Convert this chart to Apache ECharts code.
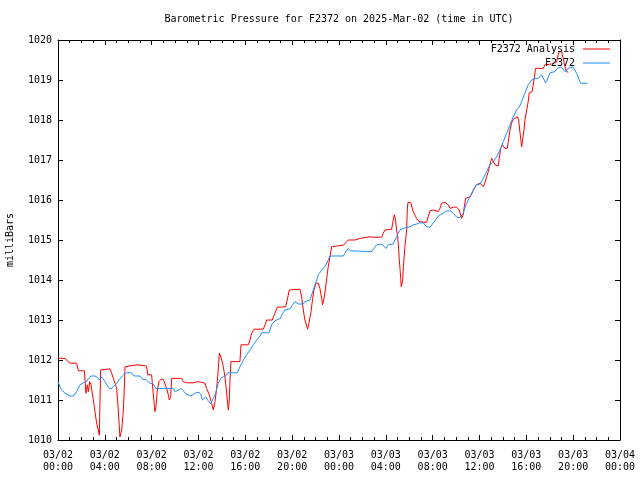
<!DOCTYPE html>
<html>
<head>
<meta charset="utf-8">
<script src="https://cdn.jsdelivr.net/npm/echarts@6/dist/echarts.min.js"></script>
<style>html,body{margin:0;padding:0;background:#fff}#c{width:640px;height:480px}</style>
</head>
<body>
<div id="c"></div>
<script>
// Hours since 2025-03-02 00:00 UTC
const xTickHours = [0,4,8,12,16,20,24,28,32,36,40,44,48];
const yTicks = [1010,1011,1012,1013,1014,1015,1016,1017,1018,1019,1020];

const analysisHours = [0.0,0.60,1.02,1.59,1.74,2.25,2.39,2.50,2.59,2.70,2.82,3.02,3.16,3.30,3.44,3.53,3.64,3.79,4.44,4.58,4.73,4.87,5.01,5.15,5.29,5.44,5.58,5.66,5.72,5.81,6.72,6.86,7.57,7.66,8.00,8.08,8.28,8.37,8.48,8.63,8.80,8.99,9.14,9.28,9.42,9.51,9.62,9.71,10.56,10.70,10.99,11.56,11.98,12.27,12.55,12.70,12.92,13.12,13.27,13.41,13.55,13.64,13.72,13.78,13.89,13.98,14.12,14.26,14.35,14.46,14.55,14.63,14.69,14.77,15.54,15.63,16.25,16.40,16.54,16.74,17.53,17.68,17.82,18.30,18.53,18.73,19.44,19.58,19.75,19.87,20.67,20.81,20.95,21.09,21.32,21.46,21.61,21.75,21.86,22.03,22.23,22.37,22.52,22.60,22.72,22.83,22.95,23.08,23.23,23.37,23.80,24.08,24.23,24.37,24.51,24.79,25.36,25.51,25.79,25.94,26.64,26.93,27.64,27.78,27.93,28.50,28.58,28.72,28.81,28.92,29.01,29.06,29.15,29.21,29.27,29.32,29.44,29.50,29.63,29.78,29.83,29.89,30.12,30.34,30.63,30.83,31.48,31.62,31.77,32.05,32.48,32.62,32.77,32.91,33.05,33.33,33.48,33.62,33.76,34.05,34.27,34.39,34.47,34.61,34.70,34.82,34.90,35.18,35.33,35.47,35.61,35.75,36.04,36.18,36.32,36.46,36.61,36.75,36.95,37.04,37.18,37.32,37.60,37.69,37.81,37.95,38.17,38.37,38.46,38.60,38.74,38.89,39.23,39.34,39.45,39.60,39.68,39.80,39.88,40.03,40.16,40.25,40.50,40.65,40.79,41.44,41.59,41.73,42.16,42.30,42.59,42.72,42.81,43.01,43.15,43.30,43.44,43.58];
const analysisValues = [1012.04,1012.04,1011.92,1011.92,1011.73,1011.73,1011.17,1011.38,1011.21,1011.46,1011.38,1011.00,1010.71,1010.42,1010.25,1010.12,1011.75,1011.78,1011.78,1011.67,1011.54,1011.42,1011.29,1010.75,1010.08,1010.25,1010.75,1011.25,1011.83,1011.88,1011.88,1011.85,1011.85,1011.63,1011.63,1011.33,1010.71,1010.83,1011.25,1011.46,1011.52,1011.52,1011.48,1011.29,1011.13,1011.00,1011.08,1011.54,1011.54,1011.46,1011.43,1011.43,1011.46,1011.44,1011.42,1011.29,1011.13,1010.92,1010.75,1010.96,1011.29,1011.58,1011.92,1012.17,1012.10,1012.00,1011.83,1011.58,1011.33,1011.00,1010.75,1011.00,1011.50,1011.96,1011.96,1012.38,1012.38,1012.50,1012.67,1012.77,1012.77,1012.88,1013.00,1013.00,1013.17,1013.32,1013.33,1013.50,1013.75,1013.77,1013.77,1013.58,1013.25,1013.00,1012.77,1012.96,1013.21,1013.54,1013.75,1013.92,1013.92,1013.79,1013.54,1013.38,1013.54,1013.75,1014.04,1014.33,1014.58,1014.83,1014.85,1014.86,1014.85,1014.87,1014.92,1015.00,1015.00,1015.02,1015.04,1015.08,1015.08,1015.07,1015.07,1015.17,1015.25,1015.27,1015.42,1015.63,1015.54,1015.25,1015.08,1014.92,1014.50,1014.29,1014.04,1013.83,1014.00,1014.33,1014.83,1015.25,1015.75,1015.94,1015.94,1015.71,1015.54,1015.46,1015.44,1015.58,1015.73,1015.75,1015.71,1015.79,1015.92,1015.96,1015.94,1015.88,1015.79,1015.77,1015.82,1015.82,1015.75,1015.63,1015.54,1015.63,1015.83,1016.04,1016.08,1016.08,1016.15,1016.25,1016.32,1016.38,1016.42,1016.38,1016.33,1016.43,1016.58,1016.71,1016.96,1017.04,1017.00,1016.88,1016.85,1017.04,1017.29,1017.38,1017.29,1017.29,1017.46,1017.75,1017.92,1018.02,1018.08,1018.00,1017.71,1017.33,1017.50,1017.75,1018.00,1018.25,1018.46,1018.68,1018.71,1019.00,1019.29,1019.29,1019.38,1019.42,1019.40,1019.43,1019.46,1019.63,1019.71,1019.71,1019.54,1019.33,1019.21,1019.19];

const stationHours = [0.0,0.17,0.31,0.60,1.02,1.31,1.59,1.88,2.16,2.45,2.59,2.82,3.16,3.36,3.53,3.73,4.01,4.24,4.38,4.58,4.81,5.01,5.29,5.58,5.78,6.29,6.49,7.00,7.20,7.57,7.86,8.14,8.34,9.85,9.99,10.28,10.50,10.70,10.93,11.07,11.36,11.56,11.84,12.07,12.21,12.33,12.47,12.61,12.78,12.90,13.04,13.18,13.35,13.49,13.69,13.89,14.12,14.32,14.49,15.30,15.54,15.83,16.11,16.40,16.68,16.97,17.25,17.40,18.02,18.25,18.53,18.81,19.02,19.10,19.38,19.53,19.81,20.04,20.24,20.38,20.52,20.95,21.09,21.52,21.67,21.80,21.95,22.09,22.23,22.52,22.80,23.08,23.23,24.37,24.51,24.79,24.94,25.08,26.79,26.93,27.22,27.64,27.78,28.01,28.21,28.35,28.63,28.78,28.92,29.06,29.21,29.49,29.72,30.06,30.34,30.63,30.91,31.20,31.48,31.77,32.19,32.48,32.91,33.19,33.48,33.76,34.05,34.19,34.33,34.61,34.90,35.18,35.47,35.75,36.04,36.32,36.61,36.89,37.18,37.46,37.75,38.03,38.32,38.60,38.89,39.17,39.45,39.60,39.88,40.16,40.45,40.74,41.02,41.31,41.44,41.64,41.79,42.01,42.16,42.44,42.64,42.78,42.93,43.15,43.30,43.44,43.58,43.72,43.95,44.15,44.35,44.49,44.64,45.22];
const stationValues = [1011.46,1011.33,1011.25,1011.17,1011.10,1011.10,1011.21,1011.38,1011.43,1011.46,1011.54,1011.60,1011.60,1011.57,1011.50,1011.58,1011.46,1011.35,1011.29,1011.29,1011.35,1011.42,1011.54,1011.62,1011.68,1011.68,1011.60,1011.60,1011.52,1011.50,1011.42,1011.40,1011.29,1011.29,1011.21,1011.25,1011.29,1011.23,1011.15,1011.10,1011.10,1011.14,1011.19,1011.19,1011.13,1011.00,1011.04,1011.08,1011.00,1010.96,1010.90,1011.00,1011.08,1011.21,1011.42,1011.54,1011.58,1011.60,1011.68,1011.68,1011.83,1012.00,1012.13,1012.25,1012.38,1012.50,1012.60,1012.68,1012.68,1012.88,1012.98,1013.02,1013.04,1013.13,1013.25,1013.28,1013.28,1013.38,1013.46,1013.50,1013.40,1013.40,1013.46,1013.50,1013.63,1013.75,1013.88,1014.00,1014.13,1014.25,1014.33,1014.50,1014.60,1014.60,1014.67,1014.79,1014.73,1014.71,1014.71,1014.75,1014.88,1014.90,1014.88,1014.79,1014.88,1014.90,1014.90,1015.00,1015.08,1015.17,1015.25,1015.29,1015.31,1015.33,1015.38,1015.40,1015.43,1015.43,1015.33,1015.32,1015.48,1015.60,1015.67,1015.73,1015.73,1015.67,1015.57,1015.54,1015.56,1015.67,1015.92,1016.08,1016.25,1016.38,1016.40,1016.54,1016.71,1016.88,1016.96,1017.08,1017.25,1017.46,1017.67,1017.88,1018.08,1018.25,1018.35,1018.46,1018.67,1018.88,1019.00,1019.04,1019.04,1019.13,1019.10,1018.93,1019.00,1019.18,1019.21,1019.21,1019.29,1019.33,1019.33,1019.27,1019.21,1019.21,1019.29,1019.33,1019.33,1019.25,1019.13,1019.02,1018.92,1018.92];

const FONT = 'DejaVu Sans Mono';
const zip = (a, b) => a.map((h, i) => [h, b[i]]);

function xLabel(v) {
  const d = 2 + Math.floor(v / 24);
  const hh = v % 24;
  return '03/0' + d + '\n' + (hh < 10 ? '0' : '') + hh + ':00';
}

const chart = echarts.init(document.getElementById('c'), null, {renderer: 'canvas'});
const axisLine = {show: true, onZero: false, lineStyle: {color: '#000', width: 1}};
const xCommon = {
  type: 'value', min: xTickHours[0], max: xTickHours[xTickHours.length - 1], interval: 4,
  axisLine: axisLine,
  axisTick: {show: true, inside: true, length: 5, lineStyle: {color: '#000'}},
  minorTick: {show: true, splitNumber: 4, length: 3, lineStyle: {color: '#000'}},
  splitLine: {show: false}
};
const yCommon = {
  type: 'value', min: yTicks[0], max: yTicks[yTicks.length - 1], interval: 1,
  axisLine: axisLine,
  axisTick: {show: true, inside: true, length: 5, lineStyle: {color: '#000'}},
  splitLine: {show: false}
};

chart.setOption({
  animation: false,
  backgroundColor: '#fff',
  title: {
    text: 'Barometric Pressure for F2372 on 2025-Mar-02 (time in UTC)',
    left: 339, top: 14, textAlign: 'center', padding: 0,
    textStyle: {fontFamily: FONT, fontSize: 10, fontWeight: 'normal', color: '#000'}
  },
  legend: {
    orient: 'vertical', right: 30, top: 44, align: 'right', padding: 0,
    icon: 'rect', itemWidth: 27, itemHeight: 1, itemGap: 4, selectedMode: false,
    textStyle: {fontFamily: FONT, fontSize: 10, color: '#000', padding: [0, 3, 0, 0]},
    data: ['F2372 Analysis', 'F2372']
  },
  grid: {left: 58, right: 20, top: 40, bottom: 40, containLabel: false, outerBoundsMode: 'none'},
  xAxis: [
    Object.assign({}, xCommon, {
      position: 'bottom',
      axisLabel: {show: true, formatter: xLabel, margin: 9, lineHeight: 12,
        fontFamily: FONT, fontSize: 10, color: '#000'}
    }),
    Object.assign({}, xCommon, {position: 'top', axisLabel: {show: false}})
  ],
  yAxis: [
    Object.assign({}, yCommon, {
      position: 'left',
      name: 'milliBars', nameLocation: 'middle', nameGap: 43, nameRotate: 90,
      nameTextStyle: {fontFamily: FONT, fontSize: 10, color: '#000'},
      axisLabel: {show: true, margin: 6, formatter: v => String(v),
        fontFamily: FONT, fontSize: 10, color: '#000'}
    }),
    Object.assign({}, yCommon, {position: 'right', axisLabel: {show: false}})
  ],
  series: [
    {
      name: 'F2372 Analysis', type: 'line', xAxisIndex: 0, yAxisIndex: 0,
      data: zip(analysisHours, analysisValues),
      symbol: 'none', showSymbol: false,
      lineStyle: {color: '#ff0000', width: 1}, itemStyle: {color: '#ff0000'}
    },
    {
      name: 'F2372', type: 'line', xAxisIndex: 0, yAxisIndex: 0,
      data: zip(stationHours, stationValues),
      symbol: 'none', showSymbol: false,
      lineStyle: {color: '#1e8fff', width: 1}, itemStyle: {color: '#1e8fff'}
    }
  ]
});
</script>
</body>
</html>
